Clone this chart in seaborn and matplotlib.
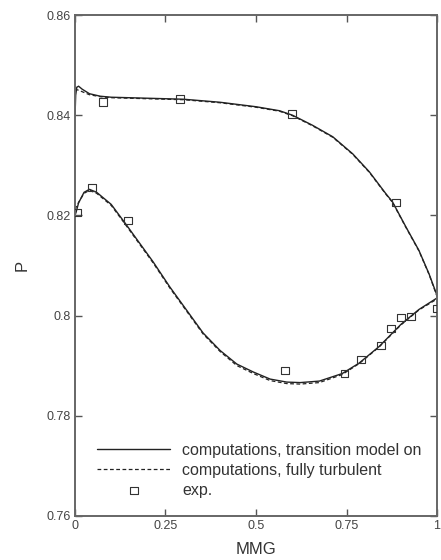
import pandas as pd
import seaborn as sns
import matplotlib.pyplot as plt

# transition model on (solid)
up_tr_x = [0, 0.002, 0.005, 0.01, 0.02, 0.04, 0.07, 0.1, 0.2, 0.3, 0.4, 0.5, 0.565, 0.601, 0.656, 0.712, 0.767, 0.813, 0.859, 0.877, 0.914, 0.95, 0.978, 1.0]
up_tr_y = [0.8396, 0.8440, 0.8456, 0.8458, 0.8452, 0.8443, 0.8438, 0.8436, 0.8434, 0.8432, 0.8426, 0.8417, 0.8409, 0.8400, 0.8380, 0.8357, 0.8323, 0.8287, 0.8243, 0.8227, 0.8177, 0.8130, 0.8083, 0.8040]
lo_tr_x = [0, 0.003, 0.01, 0.025, 0.04, 0.06, 0.1, 0.138, 0.18, 0.216, 0.262, 0.309, 0.354, 0.401, 0.447, 0.493, 0.539, 0.585, 0.622, 0.675, 0.738, 0.785, 0.84, 0.9, 0.95, 1.0]
lo_tr_y = [0.8200, 0.8206, 0.8225, 0.8246, 0.8252, 0.8246, 0.8222, 0.8185, 0.8143, 0.8107, 0.8057, 0.8010, 0.7965, 0.7930, 0.7903, 0.7887, 0.7873, 0.7867, 0.7866, 0.7869, 0.7884, 0.7905, 0.7938, 0.7982, 0.8012, 0.8035]

# fully turbulent (dashed)
up_ft_x = [0, 0.01, 0.02, 0.04, 0.07, 0.1, 0.2, 0.3, 0.4, 0.5, 0.565, 0.601, 0.656, 0.712, 0.767, 0.813, 0.859, 0.877, 0.914, 0.95, 0.978, 1.0]
up_ft_y = [0.8452, 0.8450, 0.8447, 0.8441, 0.8437, 0.8435, 0.8433, 0.8431, 0.8425, 0.8416, 0.8408, 0.8399, 0.8379, 0.8356, 0.8322, 0.8286, 0.8242, 0.8226, 0.8176, 0.8129, 0.8082, 0.8038]
lo_ft_x = [0, 0.01, 0.025, 0.04, 0.06, 0.1, 0.138, 0.18, 0.216, 0.262, 0.309, 0.354, 0.401, 0.447, 0.493, 0.539, 0.585, 0.622, 0.675, 0.738, 0.785, 0.84, 0.9, 0.95, 1.0]
lo_ft_y = [0.8212, 0.8226, 0.8244, 0.8250, 0.8244, 0.8220, 0.8183, 0.8141, 0.8105, 0.8055, 0.8008, 0.7963, 0.7928, 0.7900, 0.7884, 0.7870, 0.7864, 0.7863, 0.7866, 0.7882, 0.7904, 0.7937, 0.7981, 0.8011, 0.8033]

# experiment
exp_x = [0.077, 0.29, 0.60, 0.887, 0.005, 0.047, 0.146, 0.580, 0.744, 0.79, 0.846, 0.873, 0.90, 0.928, 1.0]
exp_y = [0.8426, 0.8432, 0.8402, 0.8226, 0.8206, 0.8256, 0.8190, 0.7890, 0.7884, 0.7912, 0.7940, 0.7974, 0.7996, 0.7998, 0.8014]

sns.set_style('ticks')
plt.rcParams['font.family'] = ['Liberation Sans', 'DejaVu Sans']

fig = plt.figure(figsize=(4.41, 5.6), dpi=100)
ax = fig.add_axes([0.170, 0.079, 0.821, 0.894])

lc = '#222222'
sns.lineplot(x=up_tr_x, y=up_tr_y, sort=False, estimator=None, color=lc, lw=1.0, ax=ax,
             label='computations, transition model on')
sns.lineplot(x=lo_tr_x, y=lo_tr_y, sort=False, estimator=None, color=lc, lw=1.0, ax=ax)
sns.lineplot(x=up_ft_x, y=up_ft_y, sort=False, estimator=None, color=lc, lw=0.9, ax=ax,
             linestyle=(0, (3, 2)), label='computations, fully turbulent')
sns.lineplot(x=lo_ft_x, y=lo_ft_y, sort=False, estimator=None, color=lc, lw=0.9, ax=ax,
             linestyle=(0, (3, 2)))
sns.scatterplot(x=exp_x, y=exp_y, marker='s', s=30, facecolor='none', edgecolor='#333333',
                linewidth=0.8, ax=ax, label='exp.', zorder=5)

ax.set_xlim(0, 1)
ax.set_ylim(0.76, 0.86)
ax.set_xticks([0, 0.25, 0.5, 0.75, 1])
ax.set_xticklabels(['0', '0.25', '0.5', '0.75', '1'])
ax.set_yticks([0.76, 0.78, 0.8, 0.82, 0.84, 0.86])
ax.set_yticklabels(['0.76', '0.78', '0.8', '0.82', '0.84', '0.86'])
ax.tick_params(direction='in', length=5, width=1, color='#555555', labelcolor='#444444',
               labelsize=9, top=True, right=True, pad=3)
for sp in ax.spines.values():
    sp.set_color('#666666')
    sp.set_linewidth(1.4)

ax.set_xlabel('MMG', fontsize=12, color='#333333')
ax.set_ylabel('P', fontsize=12, color='#333333', rotation=90)
ax.xaxis.set_label_coords(0.5, -0.052)
ax.yaxis.set_label_coords(-0.124, 0.5)

leg = ax.legend(loc='lower left', bbox_to_anchor=(0.03, 0.014), frameon=False, fontsize=11.5,
                handlelength=4.6, handletextpad=0.75, labelspacing=0.3, borderpad=0.2)
for t in leg.get_texts():
    t.set_color('#333333')

fig.savefig('out.png', dpi=100)
